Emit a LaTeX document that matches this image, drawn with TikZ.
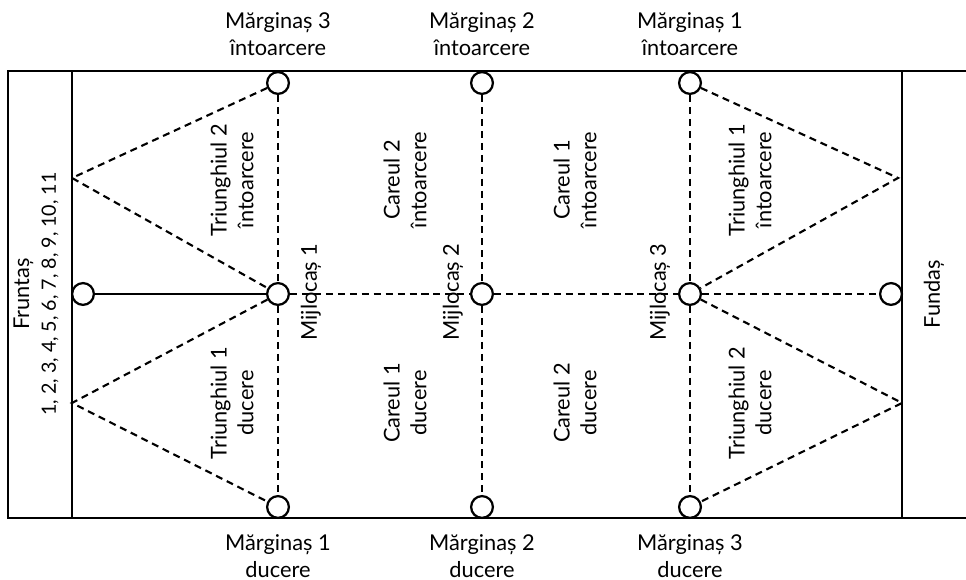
\documentclass[tikz,border=0pt]{standalone}
\usepackage{fontspec}
\setmainfont{Lato}
\usetikzlibrary{positioning}
\tikzset{
    field/.style={line width=1.6pt},
    dline/.style={line width=1.5pt, dash pattern=on 5pt off 3.5pt},
    spot/.style={circle, draw, line width=1.6pt, fill=white,
                 minimum size=15.5pt, inner sep=0pt},
    lbl/.style={align=center, inner sep=1pt,
                font=\fontsize{15.5}{19}\selectfont},
    vlbl/.style={lbl, rotate=90},
}

\begin{document}
\begin{tikzpicture}[x=0.25mm, y=0.25mm]
        \useasboundingbox (0,0) rectangle (966,580);
        % pitch outline
        \draw[field] (966,509) -- (8,509) -- (8,62) -- (966,62);
        \draw[field] (72,509) -- (72,62);
        \draw[field] (902,509) -- (902,62);
        % player spots
        \node[spot] (fr) at (83,286) {};
        \node[spot] (fu) at (891,286) {};
        \foreach \n/\x in {1/278, 2/482, 3/690} {
            \node[spot] (t\n) at (\x,497) {};
            \node[spot] (m\n) at (\x,286) {};
            \node[spot] (b\n) at (\x,73) {};
        }
        \coordinate (lu) at (72,402);
        \coordinate (ld) at (72,177);
        \coordinate (ru) at (898,402);
        \coordinate (rd) at (902,177);
        % passing lines
        \draw[field] (fr) -- (m1);
        \draw[dline] (m1) -- (m2);
        \draw[dline] (m2) -- (m3);
        \draw[dline] (m3) -- (fu);
        \foreach \n in {1,2,3} {
            \draw[dline] (t\n) -- (m\n);
            \draw[dline] (m\n) -- (b\n);
        }
        \draw[dline] (t1) -- (lu) -- (m1);
        \draw[dline] (m1) -- (ld) -- (b1);
        \draw[dline] (t3) -- (ru) -- (m3);
        \draw[dline] (m3) -- (rd) -- (b3);
        % positions
        \node[lbl] (tl1) at (278,546) {Mărginaș 3\\întoarcere};
        \node[lbl] (tl2) at (482,546) {Mărginaș 2\\întoarcere};
        \node[lbl] (tl3) at (690,546) {Mărginaș 1\\întoarcere};
        \node[lbl] (bl1) at (278,24) {Mărginaș 1\\ducere};
        \node[lbl] (bl2) at (482,24) {Mărginaș 2\\ducere};
        \node[lbl] (bl3) at (690,24) {Mărginaș 3\\ducere};
        \node[vlbl] (frl) at (36,286)
            {Fruntaș\\{\fontsize{14}{19}\selectfont 1, 2, 3, 4, 5, 6, 7, 8, 9, 10, 11}};
        \node[vlbl] (ful) at (934,286) {Fundaș};
        \node[vlbl] (ml1) at (311,288) {Mijlocaș 1};
        \node[vlbl] (ml2) at (453,288) {Mijlocaș 2};
        \node[vlbl] (ml3) at (660,288) {Mijlocaș 3};
        % zones
        \node[vlbl] (z1) at (232,400) {Triunghiul 2\\întoarcere};
        \node[vlbl] (z2) at (232,177) {Triunghiul 1\\ducere};
        \node[vlbl] (z3) at (405,400) {Careul 2\\întoarcere};
        \node[vlbl] (z4) at (405,177) {Careul 1\\ducere};
        \node[vlbl] (z5) at (575,400) {Careul 1\\întoarcere};
        \node[vlbl] (z6) at (575,177) {Careul 2\\ducere};
        \node[vlbl] (z7) at (750,400) {Triunghiul 1\\întoarcere};
        \node[vlbl] (z8) at (750,177) {Triunghiul 2\\ducere};
    \end{tikzpicture}
\end{document}
